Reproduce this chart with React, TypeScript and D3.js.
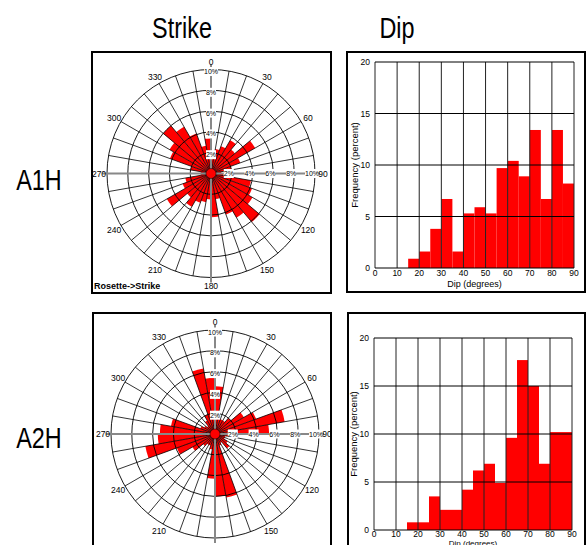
import React from 'react';
import * as d3 from 'd3';

// strike rose bins, 10 degrees each, starting at north, clockwise
const binStarts = d3.range(0, 360, 10);
const a1hStrike = [
  2.0, 2.4, 2.8, 3.7, 3.0, 4.9, 3.0, 2.0, 1.0,
  1.2, 3.9, 4.2, 4.6, 6.1, 4.9, 4.2, 2.5, 4.2,
  2.5, 2.8, 3.0, 3.7, 3.0, 4.9, 2.9, 2.5, 1.0,
  1.0, 2.0, 4.2, 4.6, 6.0, 5.2, 4.1, 2.7, 3.4
];
const a2hStrike = [
  4.6, 1.5, 1.5, 1.5, 2.0, 3.2, 4.2, 6.8, 5.2,
  2.0, 1.0, 1.0, 1.4, 1.8, 1.0, 1.2, 6.2, 6.0,
  4.3, 1.5, 1.2, 1.2, 1.5, 2.5, 3.9, 6.8, 5.5,
  5.3, 4.3, 1.5, 1.2, 1.0, 1.5, 2.0, 6.4, 5.4
];

// dip histogram bins, 5 degrees each
const dipBins = d3.range(0, 90, 5);
const a1hDip = [0, 0, 0, 0.9, 1.6, 3.8, 6.7, 1.6, 5.3, 5.9, 5.3, 9.7, 10.4, 8.9, 13.4, 6.7, 13.4, 8.2];
const a2hDip = [0, 0, 0, 0.8, 0.8, 3.5, 2.1, 2.1, 4.2, 6.2, 6.9, 4.9, 9.6, 17.7, 15.0, 6.9, 10.2, 10.2];

const ringTicks = [2, 4, 6, 8, 10];
const dirTicks = d3.range(0, 360, 30);
const dipTicks = d3.range(0, 100, 10);
const freqTicks = [0, 5, 10, 15, 20];

const font = '"Liberation Sans", Arial, sans-serif';
const red = '#ff0000';
const rad = (d: number) => (d * Math.PI) / 180;

type Box = { x: number; y: number; w: number; h: number };

// labels that would land below the bottom of the page are left out
const PAGE_H = 545;

function Rose({ box, cx, cy, values }: { box: Box; cx: number; cy: number; values: number[] }) {
  const r = d3.scaleLinear().domain([0, 10]).range([0, 104]);
  const arc = d3.arc<any>();
  const R = r(10);
  const labelY = box.y + box.h - 4;
  return (
    <g fontFamily={font}>
      <rect x={box.x} y={box.y} width={box.w} height={box.h} fill="#fff" stroke="#000" strokeWidth={2} />
      <g transform={`translate(${cx},${cy})`}>
        {values.map((v, i) => (
          <path
            key={i}
            d={arc({ innerRadius: 0, outerRadius: r(v), startAngle: rad(binStarts[i]), endAngle: rad(binStarts[i] + 10) }) || ''}
            fill={red}
          />
        ))}
        {ringTicks.map(t => (
          <circle key={t} r={r(t)} fill="none" stroke="#000" strokeWidth={0.9} />
        ))}
        {binStarts.filter(a => a % 90 !== 0).map(a => (
          <line key={a} x1={0} y1={0} x2={R * Math.sin(rad(a))} y2={-R * Math.cos(rad(a))} stroke="#000" strokeWidth={0.8} />
        ))}
        <line x1={0} y1={-R - 5} x2={0} y2={R + 5} stroke="#888" strokeWidth={2} />
        <line x1={-R - 5} y1={0} x2={R + 5} y2={0} stroke="#888" strokeWidth={2} />
        <circle r={5} fill={red} stroke="#000" strokeWidth={0.5} />
        {ringTicks.map(t => {
          const w = t === 10 ? 14 : 10;
          return (
            <g key={t} fontSize={7}>
              <rect x={-w / 2} y={-(r(t) - 2) - 4.5} width={w} height={9} fill="#fff" />
              <text x={0} y={-(r(t) - 2)} textAnchor="middle" dominantBaseline="central">{t}%</text>
              <rect x={r(t) - 3 - w / 2} y={-4.5} width={w} height={9} fill="#fff" />
              <text x={r(t) - 3} y={0} textAnchor="middle" dominantBaseline="central">{t}%</text>
            </g>
          );
        })}
        {dirTicks
          .filter(a => cy - 112 * Math.cos(rad(a)) + 4 < PAGE_H)
          .map(a => (
            <text
              key={a}
              x={112 * Math.sin(rad(a))}
              y={-112 * Math.cos(rad(a))}
              textAnchor="middle"
              dominantBaseline="central"
              fontSize={8.5}
            >
              {a}
            </text>
          ))}
      </g>
      {labelY < PAGE_H && (
        <text x={box.x + 2} y={labelY} fontSize={9} fontWeight="bold">Rosette-&gt;Strike</text>
      )}
    </g>
  );
}

function Hist({ box, plot, values }: { box: Box; plot: Box; values: number[] }) {
  const x = d3.scaleLinear().domain([0, 90]).range([plot.x, plot.x + plot.w]);
  const y = d3.scaleLinear().domain([0, 20]).range([plot.y + plot.h, plot.y]);
  const bottom = plot.y + plot.h;
  // the lower panel runs off the page, so its x title is squeezed up under the ticks
  const tight = bottom + 19 > PAGE_H;
  const tickY = tight ? bottom + 6.5 : bottom + 8;
  const titleY = tight ? PAGE_H + 0.5 : bottom + 19;
  return (
    <g fontFamily={font}>
      <rect x={box.x} y={box.y} width={box.w} height={box.h} fill="#fff" stroke="#000" strokeWidth={2} />
      {values.map((v, i) => (
        <rect key={i} x={x(dipBins[i])} y={y(v)} width={x(dipBins[i] + 5) - x(dipBins[i])} height={bottom - y(v)} fill={red} />
      ))}
      {dipTicks.map(t => (
        <line key={t} x1={x(t)} x2={x(t)} y1={plot.y} y2={bottom} stroke="#222" strokeWidth={1} />
      ))}
      {freqTicks.map(t => (
        <line key={t} x1={plot.x} x2={plot.x + plot.w} y1={y(t)} y2={y(t)} stroke="#000" strokeWidth={1} />
      ))}
      {dipTicks.map(t => (
        <text key={t} x={x(t)} y={tickY} textAnchor="middle" fontSize={8.5}>{t}</text>
      ))}
      {freqTicks.map(t => (
        <text key={t} x={plot.x - 5} y={y(t)} textAnchor="end" dominantBaseline="central" fontSize={8.5}>{t}</text>
      ))}
      <text x={plot.x + plot.w / 2} y={titleY} textAnchor="middle" fontSize={tight ? 8 : 9}>Dip (degrees)</text>
      <text
        transform={`translate(${plot.x - 17},${plot.y + plot.h / 2}) rotate(-90)`}
        textAnchor="middle"
        fontSize={9.5}
      >
        Frequency (percent)
      </text>
    </g>
  );
}

function Title({ x, y, text }: { x: number; y: number; text: string }) {
  return (
    <text transform={`translate(${x},${y}) scale(0.78,1)`} textAnchor="middle" fontSize={30} fontFamily={font}>
      {text}
    </text>
  );
}

export default function App() {
  return (
    <svg width={588} height={545} style={{ position: 'absolute', left: 0, top: 0, background: '#fff' }}>
      <Title x={182} y={38} text="Strike" />
      <Title x={397} y={38} text="Dip" />
      <Title x={39} y={190} text="A1H" />
      <Title x={39} y={448} text="A2H" />

      <Rose box={{ x: 92, y: 52, w: 239, h: 241 }} cx={211} cy={173.5} values={a1hStrike} />
      <Hist box={{ x: 347, y: 52, w: 238, h: 240 }} plot={{ x: 375, y: 62, w: 199, h: 206 }} values={a1hDip} />

      <Rose box={{ x: 93, y: 313, w: 238, h: 241 }} cx={215} cy={434} values={a2hStrike} />
      <Hist box={{ x: 348, y: 313, w: 237, h: 245 }} plot={{ x: 374, y: 338, w: 198, h: 192 }} values={a2hDip} />
    </svg>
  );
}
